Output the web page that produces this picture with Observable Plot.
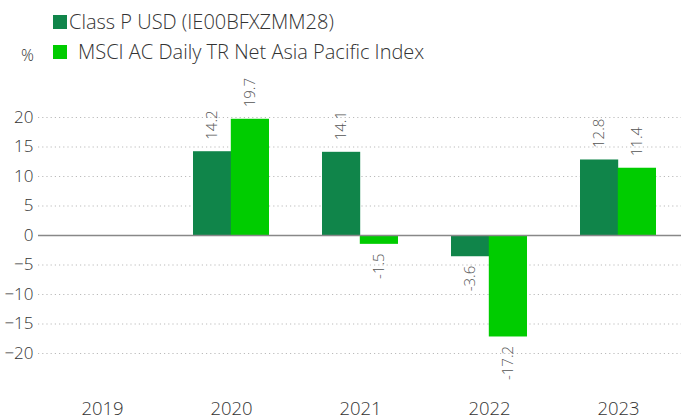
<!DOCTYPE html>
<html><head><meta charset="utf-8">
<script src="https://cdn.jsdelivr.net/npm/d3@7"></script>
<script src="https://cdn.jsdelivr.net/npm/@observablehq/plot@0.6"></script>
<style>
body{margin:0;background:#fff;font-family:"Open Sans",sans-serif;font-weight:300;}
#legend{position:relative;height:70px;color:#333;font-size:20px;width:681px;}
#legend .sw{position:absolute;width:14px;height:14px;}
#legend .lab{position:absolute;white-space:nowrap;line-height:22px;}
#chart svg{display:block;}
</style></head><body>
<div id="legend"></div><div id="chart"></div>
<script>
const years = ["2019", "2020", "2021", "2022", "2023"];
const seriesNames = ["Class P USD (IE00BFXZMM28)", "MSCI AC Daily TR Net Asia Pacific Index"];
const fundValues = [null, 14.2, 14.1, -3.6, 12.8];
const indexValues = [null, 19.7, -1.5, -17.2, 11.4];
const yTicks = [-20, -15, -10, -5, 0, 5, 10, 15, 20];
const unitLabel = "%";
const colors = ["#10854a", "#00cc00"];

// legend
const lg = document.getElementById("legend");
const rows = [{sx:53, sy:15, tx:69, ty:11}, {sx:53, sy:45, tx:78, ty:41}];
seriesNames.forEach((n,i)=>{
  const s=document.createElement("div"); s.className="sw";
  s.style.left=rows[i].sx+"px"; s.style.top=rows[i].sy+"px"; s.style.background=colors[i]; lg.appendChild(s);
  const t=document.createElement("div"); t.className="lab"; t.textContent=n;
  t.style.left=rows[i].tx+"px"; t.style.top=rows[i].ty+"px"; lg.appendChild(t);
});
const u=document.createElement("div"); u.className="lab"; u.textContent=unitLabel;
u.style.left="21px"; u.style.top="44px"; u.style.fontSize="16px"; lg.appendChild(u);

const data = [];
years.forEach((y,i)=>{
  if (fundValues[i]!=null) data.push({year:y, s:0, v:fundValues[i]});
  if (indexValues[i]!=null) data.push({year:y, s:1, v:indexValues[i]});
});
const fmt = d=>d.v.toFixed(1);
const labelMark = (s, pos) => Plot.text(data.filter(d=>d.s===s && (pos ? d.v>=0 : d.v<0)), {
  x:"year", y:"v", text:fmt, rotate:-90, dx: s===0 ? -19 : 19, dy: pos ? -12 : 9,
  textAnchor: pos ? "start" : "end", lineAnchor:"middle", fill:"#555", fontSize:15, fontWeight:300
});

const chart = Plot.plot({
  width:681, height:349,
  marginLeft:38, marginRight:-2, marginTop:17.5, marginBottom:36.5,
  style:{fontFamily:"'Open Sans', sans-serif", fontWeight:300, color:"#333", background:"#fff"},
  x:{domain:years, paddingInner:0.41, paddingOuter:0.205, label:null, tickSize:0, tickPadding:19},
  y:{domain:[-25,25], ticks:yTicks, label:null, tickSize:0, tickPadding:5},
  marks:[
    Plot.ruleY(yTicks.filter(t=>t!==0), {stroke:"#bbb", strokeDasharray:"1.2,3", strokeWidth:1}),
    Plot.barY(data.filter(d=>d.s===0), {x:"year", y:"v", fill:colors[0], insetRight:37.8, insetLeft:0}),
    Plot.barY(data.filter(d=>d.s===1), {x:"year", y:"v", fill:colors[1], insetLeft:37.8, insetRight:0}),
    Plot.ruleY([0], {stroke:"#888", strokeWidth:1.5}),
    labelMark(0,true), labelMark(0,false), labelMark(1,true), labelMark(1,false)
  ]
});
chart.querySelectorAll('g[aria-label="x-axis tick label"]').forEach(e=>e.setAttribute("font-size","18.5"));
chart.querySelectorAll('g[aria-label="y-axis tick label"]').forEach(e=>e.setAttribute("font-size","17"));
document.getElementById("chart").appendChild(chart);
</script>
</body></html>
